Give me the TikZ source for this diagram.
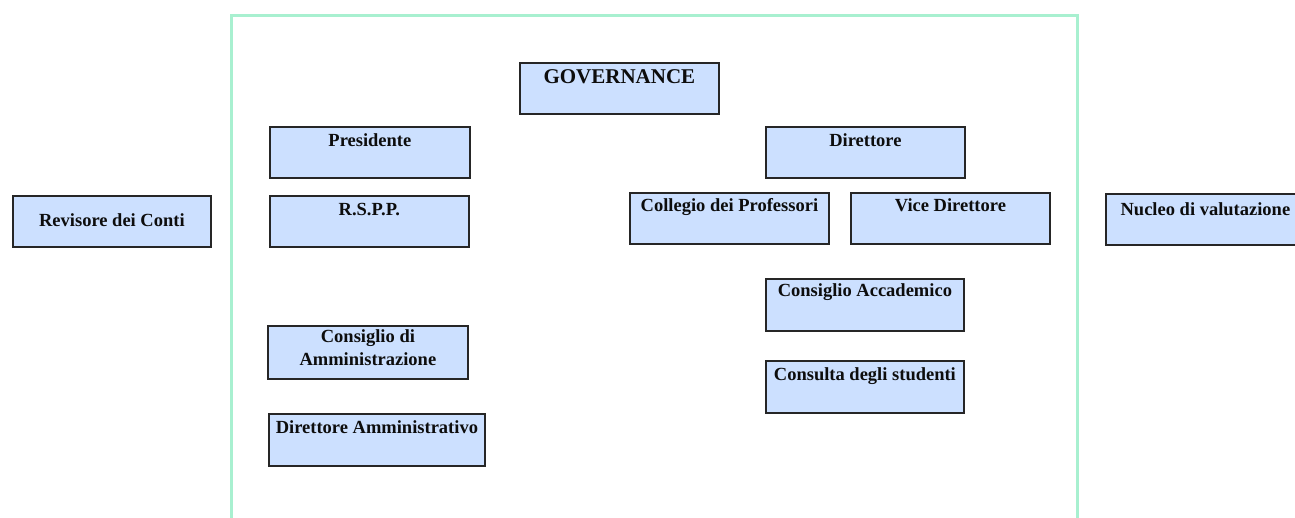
\documentclass[tikz,border=0pt]{standalone}
\usepackage{fontspec}
\setmainfont{Liberation Serif}
\begin{document}
\begin{tikzpicture}[x=1pt,y=-1pt,
  box/.style={draw=black!85, line width=1.8pt, fill=boxblue, inner sep=0pt, anchor=north west},
  lbl/.style={anchor=base, inner sep=0pt, text=black!95, font=\fontsize{18.5}{22}\selectfont\bfseries},
  frame/.style={draw=framegreen, line width=3pt}]
\definecolor{boxblue}{RGB}{204,224,255}
\definecolor{framegreen}{RGB}{168,240,208}
\useasboundingbox (0,0) rectangle (1295,518);
\begin{scope}
\clip (0,0) rectangle (1295,518);
% frame
\coordinate (fbl) at (231,540);
\coordinate (ftl) at (231,16);
\coordinate (ftr) at (1077,16);
\coordinate (fbr) at (1077,540);
\draw[frame] (fbl) -- (ftl) -- (ftr) -- (fbr);
% boxes
\node[box, minimum width=199pt, minimum height=51pt] (gov) at (519,62) {};
\node[lbl, font=\fontsize{21}{24}\selectfont\bfseries] at ([yshift=-22pt]gov.north) {GOVERNANCE};
\node[box, minimum width=200pt, minimum height=51pt] (pres) at (269,126) {};
\node[lbl] at ([yshift=-21pt]pres.north) {Presidente};
\node[box, minimum width=199pt, minimum height=51pt] (rspp) at (269,195) {};
\node[lbl] at ([yshift=-21pt]rspp.north) {R.S.P.P.};
\node[box, minimum width=198pt, minimum height=51pt] (rev) at (12,195) {};
\node[lbl] at ([yshift=-32pt]rev.north) {Revisore dei Conti};
\node[box, minimum width=199pt, minimum height=51pt] (dir) at (765,126) {};
\node[lbl] at ([yshift=-21pt]dir.north) {Direttore};
\node[box, minimum width=199pt, minimum height=51pt] (coll) at (629,192) {};
\node[lbl] at ([yshift=-20pt]coll.north) {Collegio dei Professori};
\node[box, minimum width=199pt, minimum height=51pt] (vice) at (850,192) {};
\node[lbl] at ([yshift=-20pt]vice.north) {Vice Direttore};
\node[box, minimum width=199pt, minimum height=51pt] (nuc) at (1105,193) {};
\node[lbl] at ([yshift=-23pt]nuc.north) {Nucleo di valutazione};
\node[box, minimum width=198pt, minimum height=52pt] (cacc) at (765,278) {};
\node[lbl] at ([yshift=-19pt]cacc.north) {Consiglio Accademico};
\node[box, minimum width=198pt, minimum height=52pt] (cons) at (765,360) {};
\node[lbl] at ([yshift=-20pt]cons.north) {Consulta degli studenti};
\node[box, minimum width=200pt, minimum height=53pt] (cda) at (267,325) {};
\node[lbl] at ([yshift=-18pt]cda.north) {Consiglio di};
\node[lbl] at ([yshift=-40pt]cda.north) {Amministrazione};
\node[box, minimum width=216pt, minimum height=52pt] (dam) at (268,413) {};
\node[lbl] at ([yshift=-20pt]dam.north) {Direttore Amministrativo};
\end{scope}
\end{tikzpicture}
\end{document}
